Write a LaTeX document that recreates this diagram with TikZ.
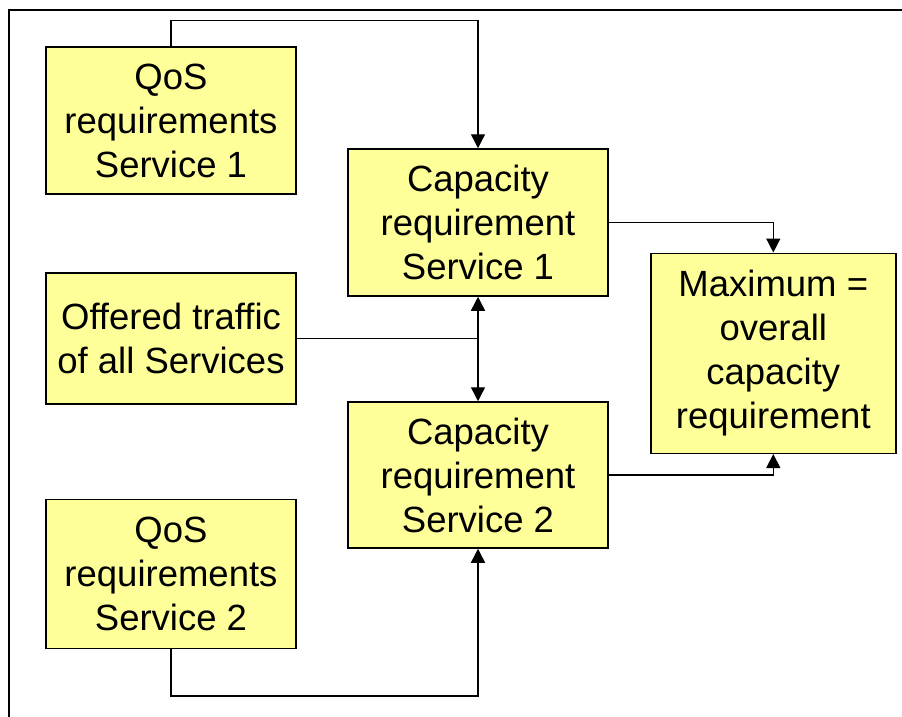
\documentclass[tikz,border=0pt]{standalone}
\usepackage{fontspec}
\setmainfont{Liberation Sans}
\usetikzlibrary{arrows.meta}
\definecolor{boxfill}{HTML}{FFFF99}
\tikzset{
  block/.style={draw=black, line width=1.5pt, fill=boxfill, align=center,
    inner sep=0pt, font=\fontsize{36.5}{44}\selectfont},
  link/.style={draw=black, line width=1.4pt, line join=miter},
  arr/.style={link, -{Triangle[length=14pt,width=14pt]}}
}
\begin{document}
\begin{tikzpicture}[x=1pt,y=-1pt]
  \useasboundingbox (0,0) rectangle (902,717);
  % outer frame (open on the right and bottom)
  \draw[line width=1.5pt] (9,717) -- (9,10) -- (902,10);

  % blocks
  \node[block, minimum width=250pt, minimum height=147pt] (q1) at (171,120.5)
    {QoS\\requirements\\Service 1};
  \node[block, minimum width=260pt, minimum height=147pt] (c1) at (478,222.5)
    {Capacity\\requirement\\Service 1};
  \node[block, minimum width=250pt, minimum height=131pt] (of) at (171,338.5)
    {Offered traffic\\of all Services};
  \node[block, minimum width=260pt, minimum height=146pt] (c2) at (478,475)
    {Capacity\\requirement\\Service 2};
  \node[block, minimum width=245pt, minimum height=200pt] (mx) at (773.3,353.3)
    {Maximum =\\overall\\capacity\\requirement};
  \node[block, minimum width=250pt, minimum height=149pt] (q2) at (171,574)
    {QoS\\requirements\\Service 2};

  % routing points
  \coordinate (top) at (478,20.5);
  \coordinate (mid) at (478,338.5);
  \coordinate (bot) at (478,696);

  % connectors
  \draw[arr] (q1.north) |- (top) -- (c1.north);
  \draw[arr] (c1.east) -| (mx.north);
  \draw[arr] (c2.east) -| (mx.south);
  \draw[link] (of.east) -- (mid);
  \draw[arr] (mid) -- (c1.south);
  \draw[arr] (mid) -- (c2.north);
  \draw[arr] (q2.south) |- (bot) -- (c2.south);
\end{tikzpicture}
\end{document}
